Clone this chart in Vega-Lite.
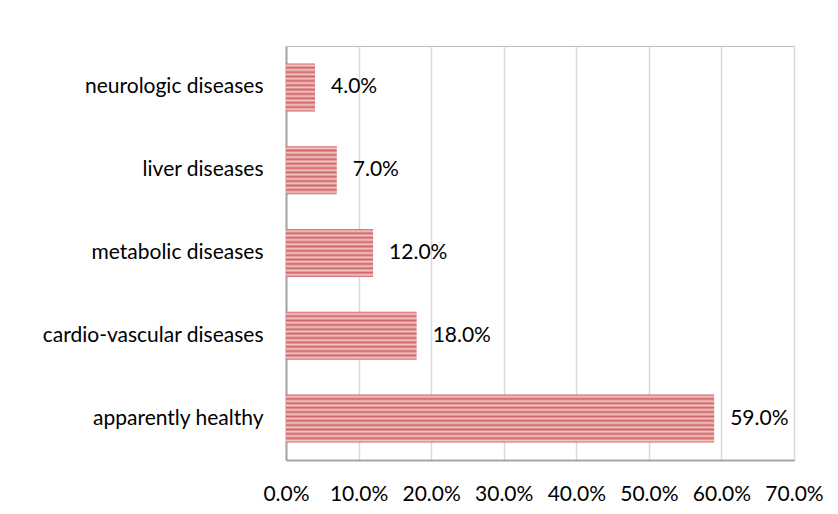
{
  "$schema": "https://vega.github.io/schema/vega-lite/v6.json",
  "width": 508,
  "height": 414,
  "autosize": {"type": "none"},
  "padding": {"left": 286, "top": 46, "right": 44, "bottom": 54},
  "background": "white",
  "config": {
    "font": "Lato",
    "view": {"stroke": "#bfbfbf", "strokeWidth": 1}
  },
  "data": {
    "values": [
      {"category": "neurologic diseases", "value": 0.04},
      {"category": "liver diseases", "value": 0.07},
      {"category": "metabolic diseases", "value": 0.12},
      {"category": "cardio-vascular diseases", "value": 0.18},
      {"category": "apparently healthy", "value": 0.59}
    ]
  },
  "encoding": {
    "y": {
      "field": "category", "type": "nominal", "sort": null,
      "scale": {"paddingInner": 0.42, "paddingOuter": 0.21},
      "axis": {
        "title": null, "ticks": false, "labelPadding": 23, "labelFontSize": 21,
        "labelColor": "#000000", "domainColor": "#a6a6a6", "domainWidth": 2, "labelLimit": 400
      }
    },
    "x": {
      "field": "value", "type": "quantitative",
      "scale": {"domain": [0, 0.7], "nice": false},
      "axis": {
        "title": null, "format": ".1%", "values": [0, 0.1, 0.2, 0.3, 0.4, 0.5, 0.6, 0.7],
        "ticks": false, "labelPadding": 23, "labelFontSize": 21, "labelColor": "#000000",
        "labelOverlap": false, "labelFlush": false, "labelBound": false,
        "domainColor": "#a6a6a6", "domainWidth": 2, "gridColor": "#d9d9d9", "gridWidth": 1.5
      }
    }
  },
  "layer": [
    {
      "mark": {
        "type": "bar",
        "color": {
          "gradient": "linear", "x1": 0, "y1": 0, "x2": 0, "y2": 1,
          "stops": [
            {"offset": 0.0, "color": "#cf6466"},
            {"offset": 0.045, "color": "#f3c6c6"},
            {"offset": 0.09, "color": "#cf6466"},
            {"offset": 0.136, "color": "#f3c6c6"},
            {"offset": 0.182, "color": "#cf6466"},
            {"offset": 0.227, "color": "#f3c6c6"},
            {"offset": 0.273, "color": "#cf6466"},
            {"offset": 0.318, "color": "#f3c6c6"},
            {"offset": 0.364, "color": "#cf6466"},
            {"offset": 0.409, "color": "#f3c6c6"},
            {"offset": 0.455, "color": "#cf6466"},
            {"offset": 0.5, "color": "#f3c6c6"},
            {"offset": 0.545, "color": "#cf6466"},
            {"offset": 0.591, "color": "#f3c6c6"},
            {"offset": 0.636, "color": "#cf6466"},
            {"offset": 0.682, "color": "#f3c6c6"},
            {"offset": 0.727, "color": "#cf6466"},
            {"offset": 0.773, "color": "#f3c6c6"},
            {"offset": 0.818, "color": "#cf6466"},
            {"offset": 0.864, "color": "#f3c6c6"},
            {"offset": 0.909, "color": "#cf6466"},
            {"offset": 0.955, "color": "#f3c6c6"},
            {"offset": 1.0, "color": "#cf6466"}
          ]
        }
      }
    },
    {
      "mark": {"type": "text", "align": "left", "dx": 16, "fontSize": 21, "color": "#000000"},
      "encoding": {
        "text": {"field": "value", "type": "quantitative", "format": ".1%"}
      }
    }
  ]
}
